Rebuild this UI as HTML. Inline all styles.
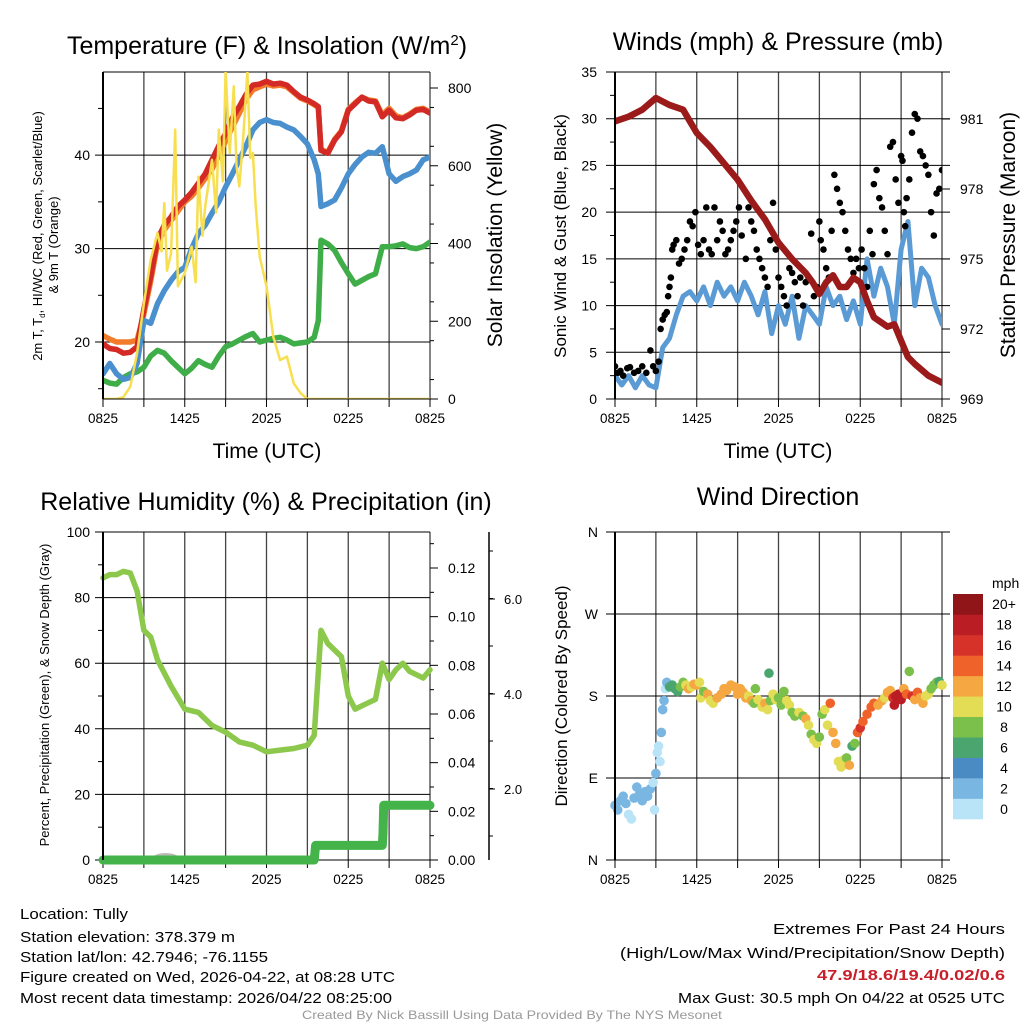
<!DOCTYPE html>
<html><head><meta charset="utf-8"><style>
html,body{margin:0;padding:0;background:#fff;}
svg{display:block;font-family:"Liberation Sans",Arial,sans-serif;}
</style></head><body>
<svg id="fig" xmlns="http://www.w3.org/2000/svg" width="1024" height="1024" viewBox="0 0 1024 1024">
<rect width="1024" height="1024" fill="#fff"/>
<g id="tl"></g>
<g id="tr"></g>
<g id="bl"></g>
<g id="br"></g>
<g font-size="15">
<text x="20" y="919" textLength="108" lengthAdjust="spacingAndGlyphs">Location: Tully</text>
<text x="20" y="942" textLength="215" lengthAdjust="spacingAndGlyphs">Station elevation: 378.379 m</text>
<text x="20" y="962" textLength="248" lengthAdjust="spacingAndGlyphs">Station lat/lon: 42.7946; -76.1155</text>
<text x="20" y="982" textLength="375" lengthAdjust="spacingAndGlyphs">Figure created on Wed, 2026-04-22, at 08:28 UTC</text>
<text x="20" y="1003" textLength="372" lengthAdjust="spacingAndGlyphs">Most recent data timestamp: 2026/04/22 08:25:00</text>
<text x="773" y="934" textLength="232" lengthAdjust="spacingAndGlyphs">Extremes For Past 24 Hours</text>
<text x="620" y="958" textLength="385" lengthAdjust="spacingAndGlyphs">(High/Low/Max Wind/Precipitation/Snow Depth)</text>
<text x="817" y="980" textLength="188" lengthAdjust="spacingAndGlyphs" fill="#c8202a" font-weight="bold">47.9/18.6/19.4/0.02/0.6</text>
<text x="678" y="1003" textLength="327" lengthAdjust="spacingAndGlyphs">Max Gust: 30.5 mph On 04/22 at 0525 UTC</text>
<text x="302" y="1019" textLength="420" lengthAdjust="spacingAndGlyphs" font-size="12" fill="#999">Created By Nick Bassill Using Data Provided By The NYS Mesonet</text>
</g>
</svg>
<script>
const NS="http://www.w3.org/2000/svg";
const xTickLabels=["0825","1425","2025","0225","0825"];
// Temperature panel data (hours since 0825)
const tT=[0,0.5,1,1.5,2,2.5,3,3.5,4,4.5,5,5.5,6,6.5,7,7.5,8,8.5,9,9.5,10,10.5,11,11.5,12,12.5,13,13.5,14,14.5,15,15.5,15.8,16,16.5,17,17.5,18,18.5,19,19.5,20,20.5,21,21.5,22,22.5,23,23.5,24];
const tempRed=[19.8,19.3,19.2,18.8,18.9,19.5,23.5,27,31,32.5,33.4,34.5,35.2,36,37,38,39.5,41,42.3,44,45.2,46.5,47.5,47.6,47.9,47.6,47.7,47.5,46.8,46.2,45.9,45.5,45.2,40.5,40.2,41.6,42.5,44.8,45.5,46.2,45.8,45.7,44.1,44.8,44.0,43.9,44.3,44.8,44.9,44.5];
const temp9m=[20.7,20.3,20.0,20.0,20.0,20.2,23,26.5,30.5,32,33,34,35,35.6,36.5,37.5,38.5,40,41.5,43,44.5,46,47,47.3,47.6,47.4,47.5,47.3,46.7,46.1,45.8,45.4,45.1,40.6,40.3,41.7,42.6,44.9,45.6,46.2,45.9,45.8,44.3,45,44.2,44,44.4,44.9,45,44.6];
const tempBlue=[16.6,17.7,16.6,16.0,16.2,17.7,22.3,22,24.1,25.5,26.6,27.5,28,30,31.6,32.5,33.8,35,36.6,38,39.5,41,42.7,43.5,43.8,43.5,43.4,43.0,42.7,42,41.2,39.5,38,34.5,34.8,35.2,36.5,38,39,39.8,40.3,40.2,40.9,38,37.2,37.7,38,38.4,39.5,39.8];
const dewGreen=[15.9,15.6,15.5,16.2,16.6,16.8,17.3,18.5,19.1,18.8,18,17.3,16.6,17.2,18,17.6,17.3,18.5,19.5,19.8,20.2,20.6,20.9,20,20.2,20.4,20.5,20.2,19.8,19.9,20,20.5,22.3,30.9,30.5,29.8,28.5,27.3,26.2,26.6,27,27.3,30.2,30.2,30.3,30.5,30.1,30,30.2,30.7];
const solarT=[0,1,1.5,2,2.5,3,3.5,4,4.3,4.5,4.7,5,5.3,5.5,6,6.5,6.8,7,7.3,7.5,8,8.3,8.5,8.8,9,9.3,9.6,9.8,10,10.3,10.6,10.8,11,11.2,11.5,12,12.5,13,13.5,14,14.5,15,16,20,24];
const solarW=[0,0,5,32,118,246,358,427,380,504,330,375,693,290,324,392,300,572,420,495,615,480,693,560,843,633,804,600,547,675,843,620,633,500,366,290,160,100,109,40,15,0,0,0,0];
const tempTicks=[20,30,40];
const solarTicks=[0,200,400,600,800];
// Winds panel data
const windT=[0,0.5,1,1.5,2,2.5,3,3.5,4,4.5,5,5.5,6,6.5,7,7.5,8,8.5,9,9.5,10,10.5,11,11.5,12,12.5,13,13.5,14,14.5,15,15.5,16,16.5,17,17.5,18,18.5,19,19.5,20,20.5,21,21.5,22,22.5,23,23.5,24];
const windV=[2.5,1.5,2.5,1.2,2.5,1.5,1.2,5.5,6.5,9,11,11.5,10.5,12,10,12.5,11,12,10.5,12.5,11,9,11.5,7,10,8,11,6.5,10,9,8,12,10,11,8.5,10.5,8,15,11,14,12,8,16,19,10,14,13,10,8];
const gustT=[0,0.2,0.4,0.6,0.9,1.1,1.4,1.7,2.0,2.3,2.6,2.8,3.0,3.2,3.35,3.5,3.65,3.8,3.9,4.0,4.1,4.2,4.3,4.5,4.7,4.9,5.1,5.3,5.5,5.7,5.9,6.1,6.3,6.5,6.7,6.9,7.1,7.3,7.5,7.7,7.9,8.1,8.3,8.5,8.7,8.9,9.1,9.3,9.6,9.8,10.0,10.2,10.4,10.6,10.8,11.0,11.2,11.4,11.6,11.8,12.0,12.2,12.4,12.6,12.8,13.0,13.2,13.4,13.6,13.8,14.0,14.2,14.4,14.6,14.8,15.0,15.1,15.3,15.5,15.7,15.9,16.1,16.3,16.5,16.7,16.9,17.1,17.3,17.5,17.7,17.9,18.1,18.3,18.5,18.7,18.9,19.0,19.2,19.4,19.6,19.8,20.0,20.2,20.4,20.6,20.8,21.0,21.1,21.2,21.3,21.4,21.6,21.8,22.0,22.2,22.4,22.6,22.8,23.0,23.2,23.4,23.6,23.8,24.0];
const gustV=[3.5,2.8,3.0,2.5,3.3,3.4,2.8,3.0,3.5,2.8,5.2,3.5,3.0,4.0,7.5,8.5,9.0,9.3,11,12,13,16,16.5,17,14.5,15,16,17,19,18.5,20,16.5,15.5,17,20.5,16,15.5,20.5,17,19,18,15.5,16,17,18,19,20.5,17.5,15,20.5,19,18,16,15,14,13,12,17,21,16,13,12,11,10,14,13.5,12.5,11,13,10,12.5,13,17.7,11,12,19,17,16,14,13,18,24,22.5,21,20,18,16,15,13.5,15,14,16,14,12,18,15.5,23,24.5,21.5,20.5,18,15.5,27,27.5,23.5,21,26,25.5,20,18.5,21.5,23.5,28.5,30.5,30,26.5,26,25,24,20,17.5,22,22.5,24.5,20,18,16.5,15,14,12,13.3,17.5];
const presT=[0,1,2,3,4,5,5.5,6,7,8,9,10,11,12,13,14,14.5,15,15.5,16,16.5,17,17.5,18,18.5,19,20,20.5,21,21.5,22,23,24];
const presV=[980.9,981.1,981.4,981.9,981.6,981.4,980.9,980.4,979.8,979.1,978.4,977.5,976.7,975.7,975.0,974.4,974.0,973.5,974.0,974.3,973.8,973.8,974.2,974.0,973.2,972.5,972.1,972.2,971.5,970.8,970.5,970.0,969.7];
const windTicks=[0,5,10,15,20,25,30,35];
const presTicks=[969,972,975,978,981];
// Humidity panel data
const rhT=[0,0.5,1,1.5,2,2.5,3,3.5,4,5,6,7,8,9,10,11,12,13,14,15,15.5,16,16.5,17,17.5,18,18.5,19,20,20.5,21,21.5,22,22.5,23,23.5,24];
const rhV=[86,87,87,88,87.5,82,70,68,61,53,46,45,41,39,36,35,33,33.5,34,35,38,70,66,64,62,50,46,47,49,60,55,58,60,57.5,56.5,55.5,58];
const precipT=[0,15.5,15.6,20.5,20.55,20.6,24];
const precipV=[0,0,0.006,0.006,0.011,0.0225,0.0225];
const rhTicks=[0,20,40,60,80,100];
const precipTicks=[0,0.02,0.04,0.06,0.08,0.10,0.12];
const precipLabels=["0.00","0.02","0.04","0.06","0.08","0.10","0.12"];
const snowTicks=["2.0","4.0","6.0"];
// Wind direction data
const dirT=[0,0.2,0.4,0.6,0.8,1.0,1.2,1.4,1.6,1.8,2.0,2.2,2.4,2.6,2.8,2.9,3.0,3.1,3.2,3.3,3.4,3.5,3.6,3.7,3.8,4.0,4.2,4.4,4.6,4.8,5.0,5.2,5.4,5.6,5.8,6.0,6.2,6.3,6.5,6.8,7.0,7.2,7.5,7.8,8.0,8.2,8.5,8.8,9.0,9.2,9.4,9.6,9.8,10.0,10.2,10.3,10.5,10.8,11.0,11.2,11.3,11.4,11.6,11.8,12.0,12.2,12.4,12.6,12.8,13.0,13.2,13.5,13.8,14.0,14.2,14.4,14.6,14.8,15.0,15.2,15.4,15.6,15.8,16.0,16.2,16.4,16.6,16.8,17.0,17.2,17.4,17.6,17.8,18.0,18.2,18.5,18.8,19.0,19.3,19.6,19.8,20.0,20.2,20.4,20.5,20.6,20.8,21.0,21.2,21.4,21.6,21.8,22.0,22.2,22.4,22.6,22.8,23.0,23.2,23.4,23.6,23.8,24.0];
const dirV=[60,55,65,70,62,50,45,68,80,72,65,75,70,78,85,55,95,118,125,108,140,165,175,188,195,190,192,188,185,190,195,192,188,190,193,192,195,178,185,182,175,172,178,182,188,186,192,190,182,188,184,178,180,175,172,188,176,168,172,165,205,175,182,176,178,170,185,175,170,162,158,162,158,155,148,138,132,128,135,160,165,148,172,140,128,108,102,110,112,104,125,128,140,145,152,160,168,172,170,175,178,184,186,178,170,180,182,176,188,182,207,180,176,184,178,172,180,182,188,192,195,196,192];
const dirS=[2.5,2.5,3,3,2.5,1,1,3,3,3,3,3,2.5,3,1.5,1,3,1,1,1,3,3,3,1.5,3,6,6,6,6,8,8,10,12,10,12,12,10,10,8,12,10,10,12,12,12,12,12,12,12,12,12,12,10,12,8,8,10,10,12,10,6,8,10,10,8,8,8,10,10,8,8,10,8,12,10,8,10,10,8,8,10,10,14,12,12,10,10,10,8,12,6,8,14,16,14,14,14,14,12,12,10,12,12,16,18,18,18,18,12,14,8,16,12,14,12,12,10,10,8,8,8,6,10];
const dirTicks=["N","E","S","W","N"];
const speedBins=["0","2","4","6","8","10","12","14","16","18","20+"];
const binColors=["#b9e3f7","#7ab6e2","#4a8bc4","#4aa56f","#7bc04a","#e3dc55","#f5a742","#ef632b","#d6322a","#bb1d24","#8f1519"];

function el(tag,attrs,parent,txt){const e=document.createElementNS(NS,tag);for(const k in attrs)e.setAttribute(k,attrs[k]);if(txt!==undefined)e.textContent=txt;parent.appendChild(e);return e;}
const X0=103,X1=430;
function frame(g,ox,y0,y1){
  const xs=h=>ox+X0+h/24*(X1-X0);
  for(let i=0;i<=8;i++){const x=xs(i*3);
    const l=el("line",{x1:x,x2:x,y1:y0,y2:y1,stroke:"#444","stroke-width":1.3},g);
    
    
    el("line",{x1:x,x2:x,y1:y1,y2:y1+8,stroke:"#000","stroke-width":1},g);
    if(i%2===0){const t=el("text",{x:x,y:y1+24,"text-anchor":"middle","font-size":13.5},g,xTickLabels[i/2]);
      
      }
  }
  return xs;
}
function hline(g,x1,x2,y){el("line",{x1:x1,x2:x2,y1:y,y2:y,stroke:"#000","stroke-width":1},g);}
function path(g,xs,ys,T,V,color,w,name){
  let d="";T.forEach((t,i)=>{d+=(i?"L":"M")+xs(t).toFixed(1)+","+ys(V[i]).toFixed(1);});
  const p=el("path",{d:d,fill:"none",stroke:color,"stroke-width":w,"stroke-linejoin":"round","stroke-linecap":"round"},g);
  
  
  return p;
}
function defsClip(id,x,y,w,h){const svg=document.getElementById("fig");let d=svg.querySelector("defs")||el("defs",{},svg);const c=el("clipPath",{id:id},d);el("rect",{x:x,y:y,width:w,height:h},c);}

// ---------- Top-left ----------
(function(){
  const g=document.getElementById("tl");
  const ys=v=>399-(v-13.9)/(48.9-13.9)*(399-72);
  const ys2=v=>399-v/800*311;
  const xs=frame(g,0,72,399);
  tempTicks.forEach(v=>{hline(g,95,430,ys(v));const t=el("text",{x:90,y:ys(v)+5,"text-anchor":"end","font-size":14},g,v);
    
    });
  [15,25,35,45].forEach(v=>el("line",{x1:98,x2:103,y1:ys(v),y2:ys(v),stroke:"#000"},g));
  solarTicks.forEach(v=>{el("line",{x1:430,x2:438,y1:ys2(v),y2:ys2(v),stroke:"#000"},g);const t=el("text",{x:448,y:ys2(v)+5,"font-size":14},g,v);
    
    });
  for(let v=50;v<800;v+=100)el("line",{x1:430,x2:434,y1:ys2(v),y2:ys2(v),stroke:"#000"},g);
  hline(g,103,430,72);
  defsClip("c1",103,72,327,327);
  const cg=el("g",{"clip-path":"url(#c1)"},g);
  path(cg,xs,ys,tT,dewGreen,"#3fae49",5.5,"dewpoint-line");
  path(cg,xs,ys,tT,temp9m,"#f27c2c",5.5,"temp-9m-line");
  path(cg,xs,ys,tT,tempRed,"#d42a26",5.5,"temp-2m-line");
  path(cg,xs,ys,tT,tempBlue,"#4a90cf",5.5,"windchill-line");
  path(cg,xs,ys2,solarT,solarW,"#f7df4f",2.5,"solar-line");
  el("line",{x1:103,x2:103,y1:72,y2:399,stroke:"#000","stroke-width":2},g);
  el("line",{x1:103,x2:430,y1:399,y2:399,stroke:"#000","stroke-width":1},g);
  const tt=el("text",{x:267,y:54,"text-anchor":"middle","font-size":25},g);
  tt.innerHTML='Temperature (F) &amp; Insolation (W/m<tspan dy="-9" font-size="15">2</tspan><tspan dy="9">)</tspan>';
  
  
  const xl=el("text",{x:267,y:458,"text-anchor":"middle","font-size":21},g,"Time (UTC)");
  
  
  const yl=el("text",{transform:"translate(42,236) rotate(-90)","text-anchor":"middle","font-size":13},g);
  yl.innerHTML='2m T, T<tspan dy="3" font-size="8">d</tspan><tspan dy="-3">, HI/WC (Red, Green, Scarlet/Blue)</tspan>';
  
  
  const yl2=el("text",{transform:"translate(58,245) rotate(-90)","text-anchor":"middle","font-size":13},g,"& 9m T (Orange)");
  
  
  const yr=el("text",{transform:"translate(502,235) rotate(-90)","text-anchor":"middle","font-size":21},g,"Solar Insolation (Yellow)");
  
  
})();

// ---------- Top-right ----------
(function(){
  const g=document.getElementById("tr");const ox=512;
  const ys=v=>399-v/35*327;
  const ys2=v=>399-(v-969)/3*70;
  const xs=frame(g,ox,72,399);
  windTicks.forEach(v=>{hline(g,606,950,ys(v));const t=el("text",{x:597,y:ys(v)+5,"text-anchor":"end","font-size":14},g,v);
    
    });
  for(let v=2.5;v<35;v+=5)el("line",{x1:610,x2:615,y1:ys(v),y2:ys(v),stroke:"#000"},g);
  presTicks.forEach(v=>{el("line",{x1:942,x2:950,y1:ys2(v),y2:ys2(v),stroke:"#000"},g);const t=el("text",{x:960,y:ys2(v)+5,"font-size":14},g,v);
    
    });
  defsClip("c2",615,72,327,327);
  const cg=el("g",{"clip-path":"url(#c2)"},g);
  path(cg,xs,ys,windT,windV,"#5b9bd5",5,"sonic-wind-line");
  gustT.forEach((t,i)=>{const c=el("circle",{cx:xs(t),cy:ys(gustV[i]),r:3.3,fill:"#000"},cg);
    
    });
  path(cg,xs,ys2,presT,presV,"#9b1b1b",6.5,"pressure-line");
  el("line",{x1:615,x2:615,y1:72,y2:399,stroke:"#000","stroke-width":2},g);
  const tt=el("text",{x:778,y:50,"text-anchor":"middle","font-size":25},g,"Winds (mph) & Pressure (mb)");
  
  
  const xl=el("text",{x:778,y:458,"text-anchor":"middle","font-size":21},g,"Time (UTC)");
  
  
  const yl=el("text",{transform:"translate(566,236) rotate(-90)","text-anchor":"middle","font-size":17},g,"Sonic Wind & Gust (Blue, Black)");
  
  
  const yr=el("text",{transform:"translate(1015,235) rotate(-90)","text-anchor":"middle","font-size":21},g,"Station Pressure (Maroon)");
  
  
})();

// ---------- Bottom-left ----------
(function(){
  const g=document.getElementById("bl");
  const ys=v=>860-v/100*328;
  const ys2=v=>860-v/0.12*292;
  const xs=frame(g,0,532,860);
  rhTicks.forEach(v=>{hline(g,95,430,ys(v));const t=el("text",{x:90,y:ys(v)+5,"text-anchor":"end","font-size":14},g,v);
    
    });
  for(let v=10;v<100;v+=20)el("line",{x1:98,x2:103,y1:ys(v),y2:ys(v),stroke:"#000"},g);
  precipTicks.forEach((v,i)=>{el("line",{x1:430,x2:438,y1:ys2(v),y2:ys2(v),stroke:"#000"},g);const t=el("text",{x:448,y:ys2(v)+5,"font-size":14},g,precipLabels[i]);
    
    });
  for(let v=0.01;v<0.135;v+=0.02)el("line",{x1:430,x2:434,y1:ys2(v),y2:ys2(v),stroke:"#000"},g);
  el("line",{x1:489,x2:489,y1:532,y2:860,stroke:"#000","stroke-width":1.5},g);
  snowTicks.forEach((s,i)=>{const y=789-i*95;el("line",{x1:489,x2:495,y1:y,y2:y,stroke:"#000"},g);const t=el("text",{x:504,y:y+5,"font-size":13},g,s);
    
    });
  for(let i=0;i<7;i++){const y=836-i*47.5;el("line",{x1:489,x2:493,y1:y,y2:y,stroke:"#000"},g);}
  path(g,xs,ys,rhT,rhV,"#8cc84b",5.5,"rh-line");
  const sn=el("ellipse",{cx:xs(4.6),cy:858,rx:13,ry:5,fill:"#bbb"},g);
  
  
  path(g,xs,ys2,precipT,precipV,"#44b34a",9,"precip-line");
  el("line",{x1:103,x2:103,y1:532,y2:860,stroke:"#000","stroke-width":2},g);
  const tt=el("text",{x:266,y:510,"text-anchor":"middle","font-size":25},g,"Relative Humidity (%) & Precipitation (in)");
  
  
  const yl=el("text",{transform:"translate(49,695) rotate(-90)","text-anchor":"middle","font-size":13},g,"Percent, Precipitation (Green), & Snow Depth (Gray)");
  
  
})();

// ---------- Bottom-right ----------
(function(){
  const g=document.getElementById("br");
  const ys=v=>860-v/360*328;
  const xs=frame(g,512,532,860);
  dirTicks.forEach((s,i)=>{const y=860-i*82;hline(g,606,950,y);const t=el("text",{x:598,y:y+5,"text-anchor":"end","font-size":14},g,s);
    
    });
  dirT.forEach((t,i)=>{const b=Math.min(10,Math.floor(dirS[i]/2));
    const c=el("circle",{cx:xs(t),cy:ys(dirV[i]),r:4.8,fill:binColors[b]},g);
    
    });
  el("line",{x1:615,x2:615,y1:532,y2:860,stroke:"#000","stroke-width":2},g);
  const tt=el("text",{x:778,y:505,"text-anchor":"middle","font-size":25},g,"Wind Direction");
  
  
  const yl=el("text",{transform:"translate(567,696) rotate(-90)","text-anchor":"middle","font-size":17},g,"Direction (Colored By Speed)");
  
  
  const mph=el("text",{x:992,y:588,"font-size":14},g,"mph");
  
  
  const h=225/11;
  speedBins.forEach((s,i)=>{const y=819-(i+1)*h;
    const r=el("rect",{x:953,y:y,width:30,height:h+0.3,fill:binColors[i]},g);
    
    
    const t=el("text",{x:1004,y:y+h/2+5,"text-anchor":"middle","font-size":14},g,s);
    
    });
})();
</script>
</body></html>
